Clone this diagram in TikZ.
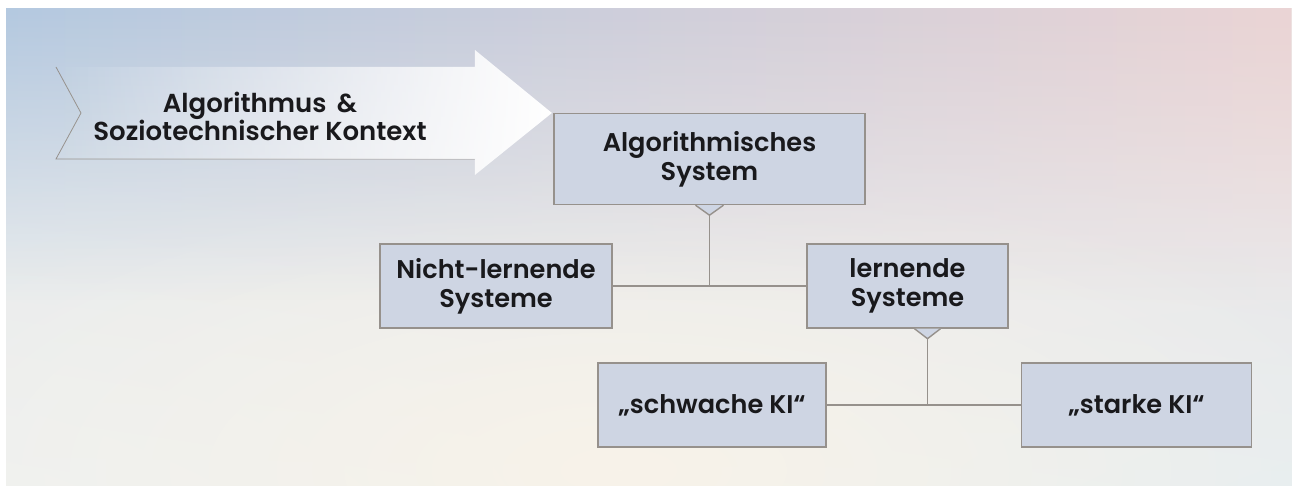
\documentclass[tikz,border=0pt]{standalone}
\usepackage{fontspec}
\setmainfont{Poppins}[UprightFont=* SemiBold]
\usepackage{tikz}
\usetikzlibrary{fadings,shadings}
\definecolor{bgUL}{RGB}{180,201,224}
\definecolor{bgTop}{RGB}{212,213,227}
\definecolor{bgUR}{RGB}{234,212,213}
\definecolor{bgML}{RGB}{229,231,233}
\definecolor{bgMR}{RGB}{238,227,226}
\definecolor{bgLL}{RGB}{238,241,241}
\definecolor{bgLR}{RGB}{229,237,241}
\definecolor{bgCream}{RGB}{248,243,233}
\definecolor{boxBlue}{RGB}{206,213,227}
\definecolor{lineGray}{RGB}{150,145,140}
\definecolor{textDark}{RGB}{25,25,28}
\tikzfading[name=fadearrow, left color=transparent!100, middle color=transparent!85, right color=transparent!0]
\tikzfading[name=glowfade, inner color=transparent!0, outer color=transparent!100]
\tikzfading[name=topfade, top color=transparent!0, middle color=transparent!55, bottom color=transparent!100]

\begin{document}
\begin{tikzpicture}[x=0.5pt,y=-0.5pt,
	box/.style={draw=lineGray, line width=0.7pt, fill=boxBlue, minimum height=42pt, align=center, inner sep=0pt, text=textDark, font=\fontsize{12.8}{14.5}\selectfont},
	link/.style={draw=lineGray, line width=0.7pt},
	notch/.style={fill=boxBlue, draw=lineGray, line width=0.7pt}]
		\useasboundingbox (0,0) rectangle (1292,486);
		\begin{scope}
			\clip (6,9) rectangle (1292,486);
			\shade[upper left=bgML, upper right=bgMR, lower left=bgLL, lower right=bgLR] (6,9) rectangle (1292,486);
			\fill[bgCream, path fading=glowfade] (620,470) ellipse (820 and 320);
			\shade[left color=bgUL, middle color=bgTop, right color=bgUR, path fading=topfade] (6,9) rectangle (1292,300);
		\end{scope}
		\draw[lineGray, line width=0.4pt] (56,67) -- (81,113) -- (56,159) -- (475,159);
		\fill[white, path fading=fadearrow] (56,67) -- (475,67) -- (475,50) -- (552,113) -- (475,175) -- (475,159) -- (56,159) -- (81,113) -- cycle;
		\node[align=center, text=textDark, font=\fontsize{13}{14}\selectfont] (kontext) at (260,116) {Algorithmus \,\&\\Soziotechnischer Kontext};
		\node[box, minimum width=155.5pt, minimum height=45.5pt] (algo) at (709.5,159) {Algorithmisches\\System};
		\node[box, minimum width=116pt] (nicht) at (496,286) {Nicht-lernende\\Systeme};
		\node[box, minimum width=100.5pt] (lern) at (907.5,286) {lernende\\Systeme};
		\node[box, minimum width=114pt] (schwach) at (712,405) {„schwache KI“};
		\node[box, minimum width=115pt] (stark) at (1136.5,405) {„starke KI“};
		\coordinate (algo-tip) at ([yshift=-5pt]algo.south);
		\coordinate (lern-tip) at ([xshift=10pt,yshift=-5pt]lern.south);
		\draw[notch] ([xshift=-7pt]algo.south) -- (algo-tip) -- ([xshift=7pt]algo.south);
		\draw[notch] ([xshift=3.5pt]lern.south) -- (lern-tip) -- ([xshift=16.5pt]lern.south);
		\draw[link] (nicht.east) -- (lern.west);
		\draw[link] (algo-tip) -- (algo-tip |- nicht.east);
		\draw[link] (schwach.east) -- (stark.west);
		\draw[link] (lern-tip) -- (lern-tip |- schwach.east);
\end{tikzpicture}
\end{document}
